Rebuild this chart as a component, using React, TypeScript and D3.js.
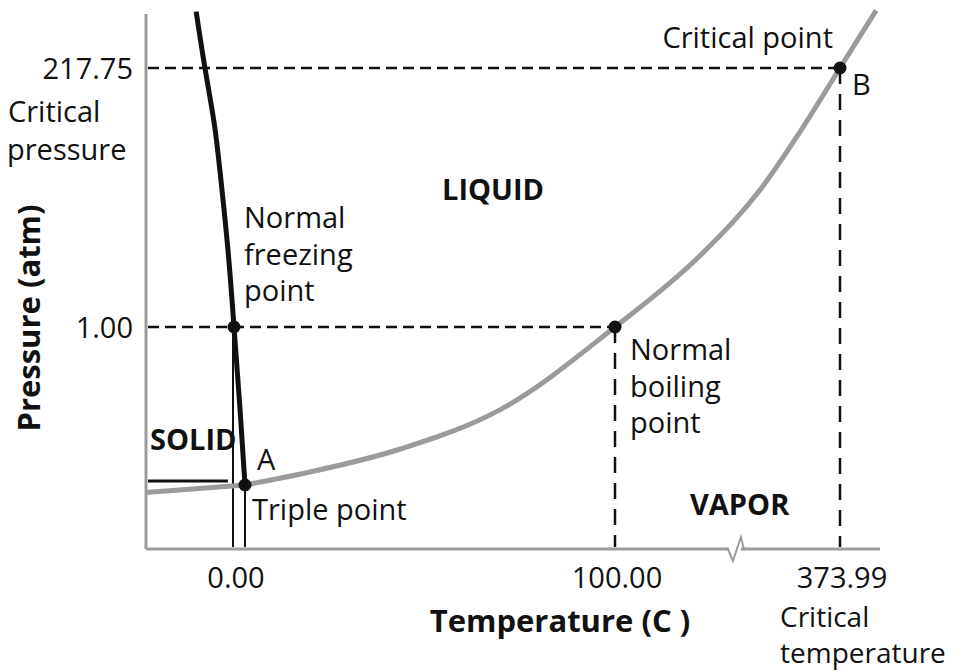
import React from "react";
import * as d3 from "d3";

const WIDTH = 972;
const HEIGHT = 671;

// schematic axes: piecewise scales, temperature in C and pressure in atm
const tempStops = [-10, 0, 0.01, 100, 373.99];
const pressStops = [0, 0.006, 1, 217.75];

const xTicks = [0, 100, 373.99];
const xTickLabels = ["0.00", "100.00", "373.99"];
const yTicks = [1, 217.75];
const yTickLabels = ["1.00", "217.75"];

// [temperature, pressure]
const vaporCurve = [
  [0.01, 0.006], [15, 0.075], [42, 0.2325], [69, 0.48], [100, 1],
  [204, 61], [277, 116], [325, 164], [373.99, 217.75], [418, 266]
];
const fusionCurve = [
  [0.01, 0.006], [0.0055, 0.48], [0, 1], [-0.68, 65], [-1.6, 132],
  [-2.3, 174], [-3.3, 217.75], [-4.3, 265]
];
const sublimationCurve = [[-10, 0.0053], [0.01, 0.006]];

const points = [
  { name: "triple", t: 0.01, p: 0.006 },
  { name: "freezing", t: 0, p: 1 },
  { name: "boiling", t: 100, p: 1 },
  { name: "critical", t: 373.99, p: 217.75 }
];

const solidMark = { t0: -10, t1: -0.7, p: 0.031 };
const axisBreakAt = 246;

const font = "'Open Sans', 'DejaVu Sans', sans-serif";
const GRAY = "#9b9b9b";

class App extends React.Component {
  render() {
    const x = d3.scaleLinear().domain(tempStops).range([146, 234, 245, 615, 840]);
    const y = d3.scaleLinear().domain(pressStops).range([549, 485, 327, 68]);
    const x0 = x(-10);
    const xEnd = 880;

    const vaporLine = d3.line<number[]>()
      .x(d => x(d[0]))
      .y(d => y(d[1]))
      .curve(d3.curveMonotoneX);
    const fusionLine = d3.line<number[]>()
      .x(d => x(d[0]))
      .y(d => y(d[1]))
      .curve(d3.curveNatural);

    const bx = x(axisBreakAt);
    const txt = (s: string, tx: number, ty: number, extra: any = {}) =>
      <text x={tx} y={ty} fontFamily={font} fontSize={29} fill="#111" {...extra}>{s}</text>;

    return <svg width={WIDTH} height={HEIGHT} style={{ position: "absolute", left: 0, top: 0, background: "white" }}>
      {/* axes */}
      <line x1={x0} x2={x0} y1={14} y2={y(0)} stroke={GRAY} strokeWidth={3} />
      <line x1={x0} x2={xEnd} y1={y(0)} y2={y(0)} stroke={GRAY} strokeWidth={3} />
      <rect x={bx - 6} y={y(0) - 3} width={12} height={6} fill="white" />
      <path d={`M${bx - 7},${y(0)} L${bx - 2},${y(0) + 12} L${bx + 6},${y(0) - 12} L${bx + 9},${y(0)}`}
        fill="none" stroke={GRAY} strokeWidth={2} />

      {/* dashed guides */}
      <g stroke="#111" strokeWidth={2.5} strokeDasharray="11,6">
        <line x1={x0 + 2} x2={x(373.99)} y1={y(217.75)} y2={y(217.75)} />
        <line x1={x0 + 2} x2={x(100)} y1={y(1)} y2={y(1)} />
      </g>
      <g stroke="#111" strokeWidth={2.5} strokeDasharray="16,10">
        <line x1={x(100)} x2={x(100)} y1={y(1)} y2={y(0) - 2} />
        <line x1={x(373.99)} x2={x(373.99)} y1={y(217.75)} y2={y(0) - 2} />
      </g>

      {/* thin drops */}
      <line x1={x(0) - 1} x2={x(0) - 1} y1={y(1)} y2={y(0) - 2} stroke="#111" strokeWidth={2} />
      <line x1={x(0.01)} x2={x(0.01)} y1={y(0.006)} y2={y(0) - 2} stroke="#111" strokeWidth={2} />
      <line x1={x0 + 2} x2={x(solidMark.t1)} y1={y(solidMark.p)} y2={y(solidMark.p)} stroke="#111" strokeWidth={3} />

      {/* phase boundaries */}
      <path d={vaporLine(sublimationCurve) || ""} fill="none" stroke={GRAY} strokeWidth={5} />
      <path d={vaporLine(vaporCurve) || ""} fill="none" stroke={GRAY} strokeWidth={5} />
      <path d={fusionLine(fusionCurve) || ""} fill="none" stroke="#111" strokeWidth={5} />

      {points.map(d => <circle key={d.name} cx={x(d.t)} cy={y(d.p)} r={6.5} fill="#111" />)}

      {/* tick labels */}
      {yTicks.map((v, i) => txt(yTickLabels[i], 133, y(v) + 11, { key: "y" + i, textAnchor: "end" }))}
      {xTicks.map((v, i) => txt(xTickLabels[i], x(v) + 2, 588, { key: "x" + i, textAnchor: "middle" }))}

      {/* annotations */}
      {txt("Critical", 8, 122)}
      {txt("pressure", 7, 160)}
      {txt("Critical point", 833, 48, { textAnchor: "end" })}
      {txt("B", 852, 95)}
      {txt("LIQUID", 442, 200, { fontWeight: "bold" })}
      {txt("Normal", 244, 228)}
      {txt("freezing", 244, 265)}
      {txt("point", 244, 301)}
      {txt("Normal", 630, 360)}
      {txt("boiling", 630, 397)}
      {txt("point", 630, 433)}
      {txt("SOLID", 150, 450, { fontWeight: "bold" })}
      {txt("A", 257, 470)}
      {txt("Triple point", 252, 520)}
      {txt("VAPOR", 690, 515, { fontWeight: "bold" })}
      {txt("Critical", 780, 627, { fontSize: 28 })}
      {txt("temperature", 780, 663, { fontSize: 28 })}

      {/* axis titles */}
      {txt("Temperature (C )", 560, 632, { fontWeight: "bold", fontSize: 31, textAnchor: "middle" })}
      <text transform="translate(40,318) rotate(-90)" fontFamily={font} fontSize={31} fontWeight="bold"
        fill="#111" textAnchor="middle">Pressure (atm)</text>
    </svg>;
  }
}

export default App;
